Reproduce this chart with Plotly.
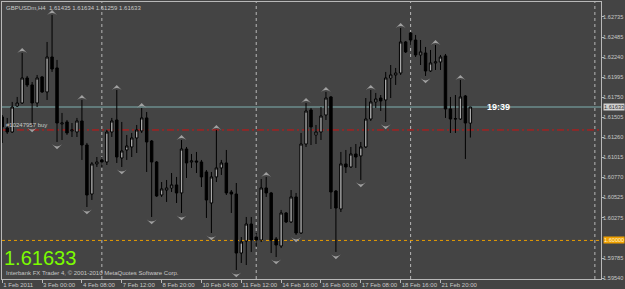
import plotly.graph_objects as go

bars = list(range(95))
opens = [1.61511, 1.61376, 1.61327, 1.61646, 1.61682, 1.61988, 1.61903, 1.61682, 1.62001, 1.61817,
         1.62245, 1.62111, 1.61425, 1.61450, 1.61340, 1.61327, 1.61462, 1.61168, 1.60568, 1.60936,
         1.60985, 1.60960, 1.61327, 1.61474, 1.61009, 1.61107, 1.61144, 1.61254, 1.61340, 1.61499,
         1.61217, 1.60960, 1.60556, 1.60617, 1.60642, 1.60679, 1.60581, 1.61119, 1.60960, 1.60972,
         1.60960, 1.60838, 1.60458, 1.60777, 1.60887, 1.60948, 1.60593, 1.60568, 1.59846, 1.59993,
         1.60201, 1.60042, 1.60005, 1.60642, 1.60581, 1.60018, 1.59932, 1.60336, 1.60226, 1.60532,
         1.60091, 1.61180, 1.61597, 1.61291, 1.61327, 1.61535, 1.61756, 1.60605, 1.60385, 1.60936,
         1.60899, 1.61058, 1.61034, 1.61144, 1.61486, 1.61695, 1.61743, 1.61719, 1.61988, 1.62025,
         1.62049, 1.62429, 1.62539, 1.62453, 1.62270, 1.62294, 1.62074, 1.62172, 1.62184, 1.62258,
         1.61609, 1.61486, 1.61486, 1.61768, 1.61435]
highs = [1.61535, 1.61499, 1.61695, 1.61756, 1.62294, 1.62013, 1.61939, 1.62025, 1.62013, 1.62429,
         1.62759, 1.62209, 1.61560, 1.61474, 1.61437, 1.61499, 1.61719, 1.61193, 1.60960, 1.61021,
         1.61021, 1.61352, 1.61499, 1.61841, 1.61450, 1.61291, 1.61315, 1.61413, 1.61621, 1.61572,
         1.61229, 1.60972, 1.60715, 1.60740, 1.60825, 1.60777, 1.61229, 1.61144, 1.61058, 1.61083,
         1.60985, 1.60862, 1.60838, 1.61352, 1.60985, 1.61107, 1.60617, 1.60703, 1.60042, 1.60287,
         1.60287, 1.60091, 1.60752, 1.60777, 1.60593, 1.60042, 1.60373, 1.60348, 1.60617, 1.60581,
         1.61315, 1.61682, 1.61621, 1.61413, 1.61633, 1.61817, 1.61768, 1.60617, 1.61083, 1.61107,
         1.61144, 1.61180, 1.61205, 1.61743, 1.61841, 1.61805, 1.61780, 1.62062, 1.62147, 1.62111,
         1.62600, 1.62441, 1.62551, 1.62515, 1.62453, 1.62368, 1.62331, 1.62392, 1.62270, 1.62282,
         1.61756, 1.61780, 1.61964, 1.61780, 1.61634]
lows = [1.61193, 1.61303, 1.61315, 1.61633, 1.61670, 1.61878, 1.61413, 1.61633, 1.61805, 1.61719,
        1.62062, 1.61205, 1.61229, 1.61291, 1.61266, 1.61266, 1.60985, 1.60409, 1.60495, 1.60899,
        1.60899, 1.60923, 1.61266, 1.60948, 1.60899, 1.60985, 1.61021, 1.61070, 1.61315, 1.60838,
        1.60287, 1.60532, 1.60532, 1.60471, 1.60593, 1.60458, 1.60336, 1.60764, 1.60887, 1.60825,
        1.60654, 1.60275, 1.60091, 1.60715, 1.60801, 1.60556, 1.60336, 1.59638, 1.59724, 1.59699,
        1.59859, 1.59920, 1.59981, 1.60532, 1.59846, 1.59797, 1.59907, 1.60213, 1.60213, 1.60067,
        1.60079, 1.61144, 1.61168, 1.61180, 1.61229, 1.61474, 1.60385, 1.59859, 1.60348, 1.60825,
        1.60887, 1.60887, 1.60740, 1.61131, 1.61462, 1.61621, 1.61584, 1.61450, 1.61743, 1.61903,
        1.62025, 1.62294, 1.62392, 1.62245, 1.62147, 1.62013, 1.62062, 1.62086, 1.62086, 1.61499,
        1.61315, 1.61315, 1.61474, 1.60997, 1.61259]
closes = [1.61389, 1.61327, 1.61633, 1.61682, 1.61988, 1.61903, 1.61682, 1.61988, 1.61817, 1.62245,
          1.62098, 1.61437, 1.61437, 1.61315, 1.61352, 1.61462, 1.61168, 1.60556, 1.60936, 1.60960,
          1.60960, 1.61327, 1.61462, 1.61021, 1.61095, 1.61156, 1.61254, 1.61352, 1.61499, 1.61205,
          1.60960, 1.60544, 1.60630, 1.60642, 1.60679, 1.60581, 1.61119, 1.60948, 1.60972, 1.60960,
          1.60777, 1.60495, 1.60777, 1.60887, 1.60948, 1.60581, 1.60568, 1.59846, 1.59981, 1.60201,
          1.60005, 1.60005, 1.60642, 1.60581, 1.60005, 1.59944, 1.60336, 1.60226, 1.60532, 1.60091,
          1.61180, 1.61584, 1.61389, 1.61327, 1.61523, 1.61743, 1.60593, 1.60397, 1.60936, 1.60899,
          1.61058, 1.61021, 1.61144, 1.61486, 1.61695, 1.61731, 1.61707, 1.61988, 1.62025, 1.62049,
          1.62429, 1.62307, 1.62453, 1.62270, 1.62307, 1.62074, 1.62172, 1.62184, 1.62245, 1.61609,
          1.61486, 1.61490, 1.61756, 1.61437, 1.61633]

fractal_up = [4, 10, 16, 23, 28, 36, 43, 53, 61, 65, 74, 80, 87, 92]
fractal_down = [6, 11, 17, 24, 30, 36, 42, 47, 55, 59, 67, 72, 77, 85]

tick_bars = [0, 8, 16, 24, 32, 40, 48, 56, 64, 72, 80, 88]
tick_labels = ["1 Feb 2011", "3 Feb 00:00", "4 Feb 08:00", "7 Feb 12:00", "8 Feb 20:00",
               "10 Feb 04:00", "11 Feb 12:00", "14 Feb 16:00", "16 Feb 00:00", "17 Feb 08:00",
               "18 Feb 16:00", "21 Feb 20:00"]
price_ticks = [1.59540, 1.59785, 1.60275, 1.60525, 1.60770, 1.61015, 1.61260, 1.61505,
               1.61750, 1.61995, 1.62240, 1.62485, 1.62735]
separator_bars = [20, 51, 82, 119]

symbol = "GBPUSDm,H4"
bid = 1.61633
order_price = 1.61352
order_label = "#10247957 buy"
level_price = 1.60000
timer_text = "19:39"
copyright_text = "Interbank FX Trader 4, © 2001-2010 MetaQuotes Software Corp."

BG = "#444444"
FG = "#c8c8c8"
FONT = "Liberation Sans, Arial, sans-serif"

fig = go.Figure()
fig.add_trace(go.Candlestick(
    x=bars, open=opens, high=highs, low=lows, close=closes,
    increasing=dict(line=dict(color="#000000", width=1), fillcolor="#a8a8a8"),
    decreasing=dict(line=dict(color="#000000", width=1), fillcolor="#000000"),
    whiskerwidth=0, showlegend=False, hoverinfo="skip"))

fig.add_trace(go.Scatter(
    x=fractal_up, y=[highs[i] + 0.0006 for i in fractal_up], mode="markers",
    marker=dict(symbol="arrow-wide", size=7, color="#a0a0a0", angle=0),
    showlegend=False, hoverinfo="skip"))
fig.add_trace(go.Scatter(
    x=fractal_down, y=[lows[i] - 0.0009 for i in fractal_down], mode="markers",
    marker=dict(symbol="arrow-wide", size=7, color="#a0a0a0", angle=180),
    showlegend=False, hoverinfo="skip"))

shapes = []
for b in separator_bars:
    shapes.append(dict(type="line", xref="x", yref="paper", x0=b, x1=b, y0=0, y1=1,
                       line=dict(color="#b8b8b8", width=1, dash="dot"), layer="below"))
shapes.append(dict(type="line", xref="paper", yref="y", x0=0, x1=1, y0=bid, y1=bid,
                   line=dict(color="#7fb0b0", width=1), layer="below"))
shapes.append(dict(type="line", xref="paper", yref="y", x0=0, x1=1, y0=order_price, y1=order_price,
                   line=dict(color="#d01010", width=1, dash="7px,3px,2px,3px"), layer="below"))
shapes.append(dict(type="line", xref="paper", yref="y", x0=0, x1=1, y0=level_price, y1=level_price,
                   line=dict(color="#e89c00", width=1, dash="dot"), layer="below"))

annotations = [
    dict(xref="paper", yref="paper", x=0.004, y=0.995, xanchor="left", yanchor="top",
         text=f"{symbol}  {opens[-1]:.5f} {highs[-1]:.5f} {lows[-1]:.5f} {closes[-1]:.5f}",
         showarrow=False, font=dict(family=FONT, size=6, color=FG)),
    dict(xref="paper", yref="y", x=0.004, y=order_price, xanchor="left", yanchor="bottom",
         text=order_label, showarrow=False, font=dict(family=FONT, size=6, color=FG)),
    dict(xref="x", yref="y", x=97, y=bid, xanchor="left", yanchor="middle",
         text=f"<b>{timer_text}</b>", showarrow=False,
         font=dict(family=FONT, size=9, color="#ffffff")),
    dict(xref="paper", yref="paper", x=0.0, y=0.03, xanchor="left", yanchor="bottom",
         text=f"{bid:.5f}", showarrow=False,
         font=dict(family=FONT, size=20, color="#7cfc00")),
    dict(xref="paper", yref="paper", x=0.003, y=0.003, xanchor="left", yanchor="bottom",
         text=copyright_text, showarrow=False, font=dict(family=FONT, size=6, color=FG)),
    dict(xref="paper", yref="y", x=1.0, xshift=2, y=bid, xanchor="left", yanchor="middle",
         text=f"{bid:.5f}", showarrow=False, bgcolor="#d0d0d0", borderpad=0,
         font=dict(family=FONT, size=5.6, color="#303030")),
    dict(xref="paper", yref="y", x=1.0, xshift=2, y=level_price, xanchor="left", yanchor="middle",
         text=f"{level_price:.5f}", showarrow=False, bgcolor="#f0a000", borderpad=0,
         font=dict(family=FONT, size=5.6, color="#fff4d0")),
]

fig.update_layout(
    width=625, height=289,
    margin=dict(l=2, r=24, t=2, b=10),
    paper_bgcolor=BG, plot_bgcolor=BG,
    shapes=shapes, annotations=annotations,
    showlegend=False,
    xaxis=dict(range=[-0.05, 120.23], rangeslider=dict(visible=False),
               tickmode="array", tickvals=tick_bars, ticktext=tick_labels,
               tickangle=0, automargin=False,
               ticks="outside", ticklen=3, tickcolor="#b8b8b8",
               ticklabelposition="outside right",
               tickfont=dict(family=FONT, size=6, color=FG),
               showgrid=False, zeroline=False, showline=True, linecolor="#b8b8b8",
               mirror=True),
    yaxis=dict(range=[1.59528, 1.62918], side="right", automargin=False,
               tickmode="array", tickvals=price_ticks,
               ticktext=[f"{p:.5f}" for p in price_ticks],
               ticks="outside", ticklen=2, tickcolor="#b8b8b8",
               ticklabelstandoff=-2,
               tickfont=dict(family=FONT, size=5.6, color=FG),
               showgrid=False, zeroline=False, showline=True, linecolor="#b8b8b8",
               mirror=True),
)

fig.write_html("out.html")
